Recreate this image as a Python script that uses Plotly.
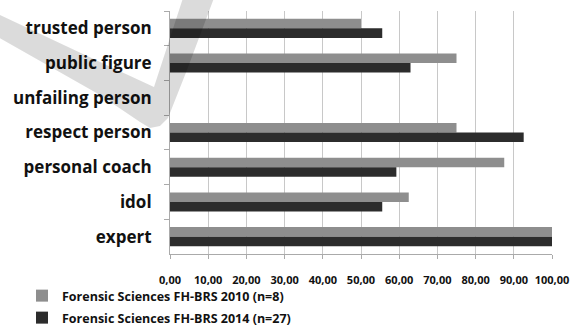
import plotly.graph_objects as go

categories = ["trusted person", "public figure", "unfailing person", "respect person",
              "personal coach", "idol", "expert"]
values_2010 = [50.0, 75.0, 0.0, 75.0, 87.5, 62.5, 100.0]
values_2014 = [55.56, 62.96, 0.0, 92.59, 59.26, 55.56, 100.0]
series_names = ["Forensic Sciences FH-BRS 2010 (n=8)", "Forensic Sciences FH-BRS 2014 (n=27)"]
x_ticks = [0, 10, 20, 30, 40, 50, 60, 70, 80, 90, 100]

font_family = "Open Sans, Liberation Sans, sans-serif"

W, H = 579, 331
ML, MR, MT, MB = 170, 27, 11, 77
PW, PH = W - ML - MR, H - MT - MB


def px(x, y):
    return (x - ML) / PW, (H - MB - y) / PH


# decorative watermark check mark (pixel outline converted to paper coords)
wm_outline = [(-2, 14), (100, 62), (154, 87), (183, -2), (214, -2), (187, 70),
              (168, 118), (160, 126), (150, 128), (140, 122), (100, 95), (-2, 37)]
wm_pts = [px(a, b) for a, b in wm_outline]
wm_path = "M " + " L ".join(f"{a:.4f},{b:.4f}" for a, b in wm_pts) + " Z"

fig = go.Figure()
fig.add_trace(go.Bar(y=categories, x=values_2010, orientation="h", name=series_names[0],
                     marker=dict(color="#8e8e8e", line=dict(width=0)), legend="legend"))
fig.add_trace(go.Bar(y=categories, x=values_2014, orientation="h", name=series_names[1],
                     marker=dict(color="#2c2c2c", line=dict(width=0)), legend="legend2"))

fig.add_shape(type="path", path=wm_path, xref="paper", yref="paper",
              fillcolor="rgba(0,0,0,0.14)", line=dict(width=0), layer="above")

leg_common = dict(orientation="v", xanchor="left", yanchor="middle", bgcolor="rgba(0,0,0,0)",
                  font=dict(size=12.5, family=font_family, weight="bold", color="#111111"),
                  itemwidth=30, tracegroupgap=0)
lx = px(22, 0)[0]
fig.update_layout(
    width=W, height=H,
    margin=dict(l=ML, r=MR, t=MT, b=MB, autoexpand=False),
    paper_bgcolor="white", plot_bgcolor="white",
    barmode="group", bargap=0.45, bargroupgap=0,
    separators=",.",
    font=dict(family=font_family, color="#111111"),
    legend=dict(x=lx, y=px(0, 296)[1], **leg_common),
    legend2=dict(x=lx, y=px(0, 318)[1], **leg_common),
    showlegend=True,
)
fig.update_xaxes(range=[0, 100], tickvals=x_ticks, tickformat=".2f", automargin=False,
                 showgrid=True, gridcolor="#c8c8c8", gridwidth=1,
                 showline=True, linecolor="#aaaaaa", linewidth=1,
                 ticks="outside", ticklen=4, tickcolor="#aaaaaa",
                 tickfont=dict(size=11, family=font_family, weight="bold"),
                 ticklabelstandoff=12,
                 zeroline=False, fixedrange=True)
fig.update_yaxes(autorange="reversed", categoryorder="array", categoryarray=categories,
                 automargin=False,
                 showline=True, linecolor="#aaaaaa", linewidth=1,
                 ticks="outside", ticklen=5, tickcolor="#aaaaaa", tickson="boundaries",
                 showgrid=False,
                 tickfont=dict(size=17, family=font_family, weight="bold"),
                 ticklabelstandoff=14)

fig.write_html("out.html", config={"displayModeBar": False},
               post_script="document.body.style.margin='0';document.body.style.overflow='hidden';")
